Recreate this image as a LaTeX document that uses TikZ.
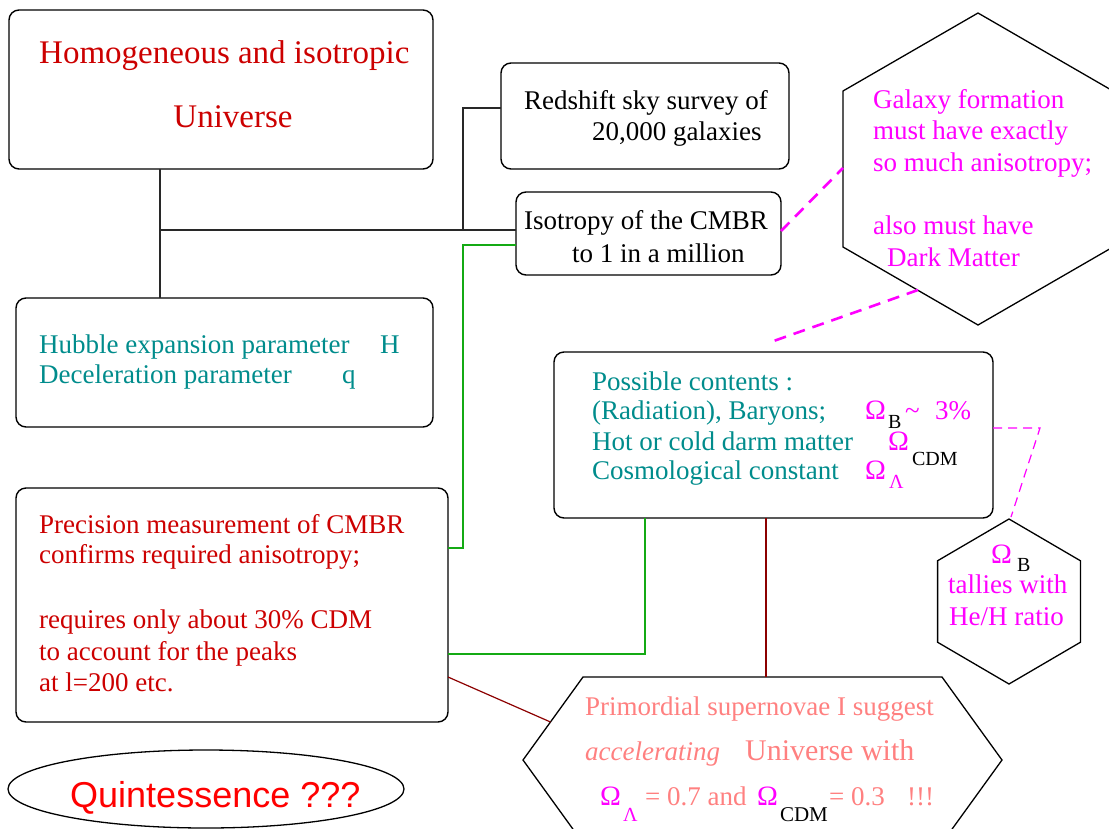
\documentclass[tikz,border=0pt]{standalone}
\usepackage{fontspec}
\setmainfont{Liberation Serif}
\setsansfont{Liberation Sans}
\usetikzlibrary{shapes.geometric}
\definecolor{tred}{RGB}{204,0,0}
\definecolor{tteal}{RGB}{0,140,140}
\definecolor{tmag}{RGB}{255,0,255}
\definecolor{tsalmon}{RGB}{255,128,128}
\definecolor{tgreen}{RGB}{20,170,20}
\definecolor{tdred}{RGB}{140,0,0}
\definecolor{tqred}{RGB}{255,0,0}
\definecolor{tline}{RGB}{40,40,40}
% Omega with a lowered index: #1 gap, #2 drop, #3 index text (with colour), #4 index size
\newcommand{\omsub}[4]{\textcolor{tmag}{Ω}\hspace{#1}\raisebox{-#2}{\fontsize{#4}{24}\selectfont #3}}
\begin{document}
\begin{tikzpicture}[x=1pt,y=-1pt,
  box/.style={draw=black, rounded corners=10pt, line width=1.4pt, inner sep=0pt, outer sep=0pt},
  hexline/.style={draw=black, line width=1.3pt, line join=miter},
  conn/.style={draw=tline, line width=1.2pt},
  gconn/.style={draw=tgreen, line width=1.2pt},
  rconn/.style={draw=tdred, line width=1.2pt},
  mdash/.style={draw=tmag, line width=2.6pt, dash pattern=on 12pt off 8pt},
  mthin/.style={draw=tmag, line width=1.2pt, dash pattern=on 9pt off 6pt},
  txt/.style={anchor=base west, inner sep=0pt, font=\fontsize{27}{31}\selectfont},
  bigtxt/.style={anchor=base west, inner sep=0pt, font=\fontsize{33}{38}\selectfont},
  omega/.style={anchor=base west, inner sep=0pt, font=\fontsize{28}{32}\selectfont}
]
\useasboundingbox (0,0) rectangle (1109,828);

% ---------- boxes ----------
\node[box, minimum width=424pt, minimum height=159pt] (homog) at (221,89.5) {};
\node[box, minimum width=288pt, minimum height=106pt] (redshift) at (645,116) {};
\node[box, minimum width=265pt, minimum height=83pt] (iso) at (648.5,233.5) {};
\node[box, minimum width=417pt, minimum height=129pt] (hubble) at (224.5,362.5) {};
\node[box, minimum width=432pt, minimum height=234pt] (prec) at (232,605) {};
\node[box, minimum width=439pt, minimum height=166pt] (contents) at (773.5,435) {};
\node[draw=black, line width=1.3pt, ellipse, minimum width=396pt, minimum height=78pt, inner sep=0pt] (quint) at (206,789) {};

% ---------- hexagons ----------
\draw[hexline] (978,13) coordinate (gal-n) -- (1113,91) coordinate (gal-ne) -- (1113,247) coordinate (gal-se)
  -- (978,325) coordinate (gal-s) -- (843,247) coordinate (gal-sw) -- (843,91) coordinate (gal-nw) -- cycle;
\draw[hexline] (1009,519) coordinate (sm-n) -- (1080.4,560.75) coordinate (sm-ne) -- (1080.4,642.25) coordinate (sm-se)
  -- (1009,684) coordinate (sm-s) -- (937.6,642.25) coordinate (sm-sw) -- (937.6,560.75) coordinate (sm-nw) -- cycle;
\draw[hexline] (583,677) coordinate (sn-nw) -- (942,677) coordinate (sn-ne) -- (1002,760) coordinate (sn-e)
  -- (942,843) coordinate (sn-se) -- (583,843) coordinate (sn-sw) -- (523,760) coordinate (sn-w) -- cycle;

% ---------- connection points ----------
\coordinate (j1) at (160,230);
\coordinate (j2) at (463,108);
\coordinate (g1) at (463,245);
\coordinate (g2) at (463,548);
\coordinate (g3) at (645,654);
\coordinate (r1) at (766,677);
\coordinate (r2) at (550.5,722);
\coordinate (galw) at (843,168);
\coordinate (galsw) at (918,290);
\coordinate (ctop) at (768,343);
\coordinate (d1) at (1040,428);
\coordinate (smtop) at (1011,517);

% ---------- connectors ----------
\draw[conn] (homog.south -| j1) -- (hubble.north -| j1);
\draw[conn] (j1) -- (j1 -| iso.west);
\draw[conn] (j2 |- j1) -- (j2) -- (j2 -| redshift.west);
\draw[gconn] (g1 -| iso.west) -- (g1) -- (g2) -- (g2 -| prec.east);
\draw[gconn] (g3 -| prec.east) -- (g3) -- (g3 |- contents.south);
\draw[rconn] (r1 |- contents.south) -- (r1);
\draw[rconn] (prec.east |- r1) -- (r2);
\draw[mdash] (iso.east |- 0,231) -- (galw);
\draw[mdash] (galsw) -- (ctop);
\draw[mthin] (d1 -| contents.east) -- (d1) -- (smtop);

% ---------- texts ----------
\node[bigtxt, text=tred] (h1) at (39,63) {Homogeneous and isotropic};
\node[bigtxt, text=tred, anchor=base] (h2) at (233,127) {Universe};

\node[txt] (rs1) at (524,109) {Redshift sky survey of};
\node[txt] (rs2) at (592,140) {20,000 galaxies};

\node[txt] (is1) at (524,229) {Isotropy of the CMBR};
\node[txt] (is2) at (572,262) {to 1 in a million};

\node[txt, text=tmag] (ga1) at (873,108) {Galaxy formation};
\node[txt, text=tmag] (ga2) at (873,139) {must have exactly};
\node[txt, text=tmag] (ga3) at (873,171) {so much anisotropy;};
\node[txt, text=tmag] (ga4) at (873,234) {also must have};
\node[txt, text=tmag] (ga5) at (887,266) {Dark Matter};

\node[txt, text=tteal] (hu1) at (39,353) {Hubble expansion parameter};
\node[txt, text=tteal] (hu2) at (380,353) {H};
\node[txt, text=tteal] (hu3) at (39,383) {Deceleration parameter};
\node[txt, text=tteal] (hu4) at (342,383) {q};

\node[txt, text=tred] (pr1) at (39,533) {Precision measurement of CMBR};
\node[txt, text=tred] (pr2) at (39,563) {confirms required anisotropy;};
\node[txt, text=tred] (pr3) at (39,628) {requires only about 30\% CDM};
\node[txt, text=tred] (pr4) at (39,660) {to account for the peaks};
\node[txt, text=tred] (pr5) at (39,691) {at l=200 etc.};

\node[txt, text=tteal] (co1) at (592,390) {Possible contents :};
\node[txt, text=tteal] (co2) at (592,419) {(Radiation), Baryons;};
\node[txt, text=tteal] (co3) at (592,450) {Hot or cold darm matter};
\node[txt, text=tteal] (co4) at (592,479) {Cosmological constant};
\node[omega] (om1) at (865,419) {\omsub{2pt}{9pt}{B}{20}};
\node[txt, text=tmag] (om1t) at (905,419) {\char"7E};
\node[txt, text=tmag] (om1p) at (935,419) {3\%};
\node[omega] (om2) at (888,450) {\omsub{3pt}{15pt}{CDM}{20}};
\node[omega] (om3) at (865,479) {\omsub{3pt}{9pt}{\textcolor{tmag}{Λ}}{20}};

\node[omega] (sb1) at (991,563) {\omsub{5pt}{8pt}{B}{20}};
\node[txt, text=tmag] (sb3) at (948,593) {tallies with};
\node[txt, text=tmag] (sb4) at (949,625) {He/H ratio};

\node[txt, text=tsalmon] (sn1) at (585,715) {Primordial supernovae I suggest};
\node[txt, text=tsalmon] (sn2) at (585,760) {\itshape accelerating};
\node[anchor=base west, inner sep=0pt, font=\fontsize{30}{34}\selectfont, text=tsalmon] (sn3) at (745,760) {Universe with};
\node[omega] (sn4) at (600,805) {\omsub{2pt}{16pt}{\textcolor{tmag}{Λ}}{20}};
\node[txt, text=tsalmon] (sn6) at (645,805) {= 0.7 and};
\node[omega] (sn7) at (757,805) {\omsub{2pt}{16pt}{CDM}{21}};
\node[txt, text=tsalmon] (sn9) at (829,805) {= 0.3};
\node[txt, text=tsalmon] (sn10) at (907,805) {!!!};

\node[anchor=base west, inner sep=0pt, font=\sffamily\fontsize{36}{42}\selectfont, text=tqred] (qt) at (70,807) {Quintessence ???};
\end{tikzpicture}
\end{document}
